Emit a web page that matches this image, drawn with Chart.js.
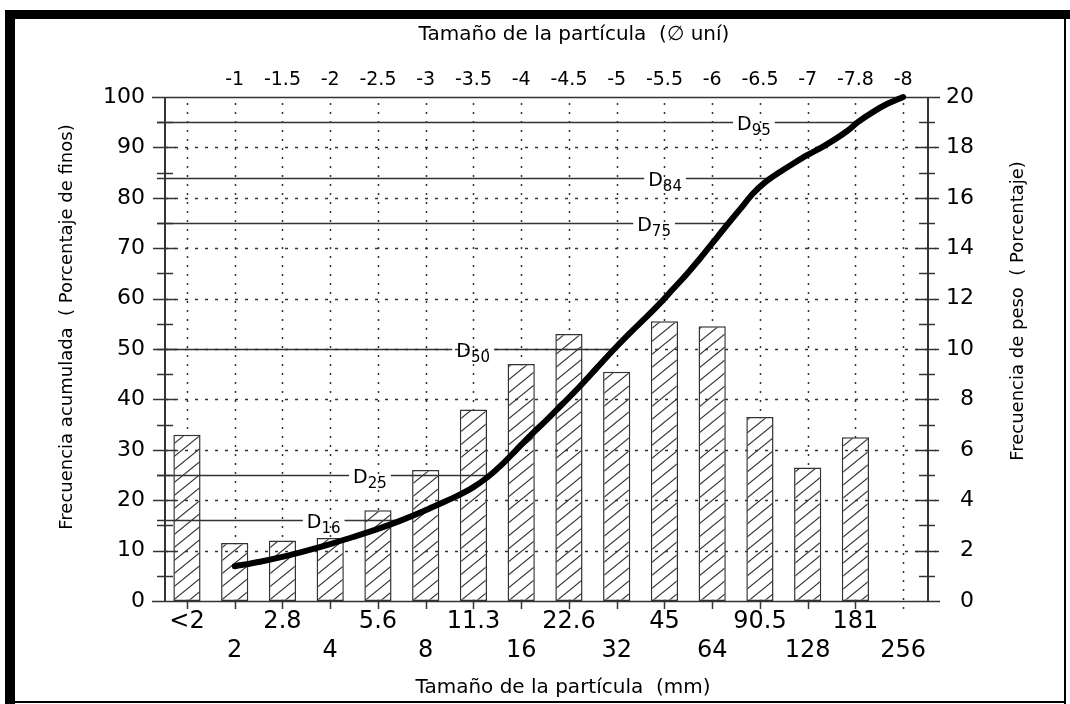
<!DOCTYPE html>
<html>
<head>
<meta charset="utf-8">
<script src="https://cdn.jsdelivr.net/npm/chart.js@4.4.1/dist/chart.umd.min.js"></script>
<style>
  html, body { margin: 0; padding: 0; background: #fff; }
  canvas { display: block; }
</style>
</head>
<body>
<canvas id="c" width="1070" height="704"></canvas>
<script>
// Clases granulométricas: límite de cada clase en mm (paso de medio phi)
const sizeLabels = ['<2', '2', '2.8', '4', '5.6', '8', '11.3', '16', '22.6', '32', '45', '64', '90.5', '128', '181', '256'];
// Mismos límites en unidades phi (eje superior)
const phiLabels = ['', '-1', '-1.5', '-2', '-2.5', '-3', '-3.5', '-4', '-4.5', '-5', '-5.5', '-6', '-6.5', '-7', '-7.8', '-8'];

// Frecuencia de peso de cada clase (%), eje derecho
const weightPct = [6.6, 2.3, 2.4, 2.5, 3.6, 5.2, 7.6, 9.4, 10.6, 9.1, 11.1, 10.9, 7.3, 5.3, 6.5];

// Curva de frecuencia acumulada: posición sobre la escala de clases y % de finos
const cumPos = [1.00, 1.53, 2.02, 2.51, 3.00, 3.48, 3.97, 4.46, 4.95, 5.30, 5.65, 6.00, 6.30, 6.60, 6.90, 7.19, 7.54, 7.88, 8.23, 8.58,
                8.93, 9.28, 9.63, 9.91, 10.19, 10.47, 10.75, 11.03, 11.31, 11.59, 11.85, 12.10, 12.40, 12.70, 12.98, 13.40, 13.82, 14.05, 14.38, 14.66, 15.00];
const cumPct = [6.9, 7.8, 8.8, 10.0, 11.3, 12.7, 14.2, 15.9, 17.8, 19.3, 20.8, 22.6, 24.6, 27.1, 30.0, 32.8, 36.0, 39.2, 42.6, 46.2,
                49.8, 53.2, 56.4, 59.1, 62.0, 64.9, 68.0, 71.3, 74.6, 77.8, 80.8, 83.0, 85.0, 86.8, 88.4, 90.6, 93.2, 95.0, 97.1, 98.6, 100];

// Percentiles señalados sobre la curva
const dLevels = [16, 25, 50, 75, 84, 95];

const FONT = '"DejaVu Sans", sans-serif';
Chart.defaults.font.family = FONT;
Chart.defaults.color = '#000';

const canvas = document.getElementById('c');
const ctx = canvas.getContext('2d');

// Relleno rayado de las barras
function hatch() {
  const W = 16, H = 13;
  const t = document.createElement('canvas');
  t.width = W; t.height = H;
  const g = t.getContext('2d');
  g.fillStyle = '#fff';
  g.fillRect(0, 0, W, H);
  g.strokeStyle = '#333';
  g.lineWidth = 1.1;
  for (const k of [-1, 0, 1]) {
    g.beginPath();
    g.moveTo(k * W - 2, H + 2 * H / W);
    g.lineTo(k * W + W + 2, -2 * H / W);
    g.stroke();
  }
  return ctx.createPattern(t, 'repeat');
}

// Posición (en la escala de clases) donde la curva acumulada alcanza un porcentaje
function crossing(level) {
  for (let i = 1; i < cumPct.length; i++) {
    if (cumPct[i] >= level) {
      const f = (level - cumPct[i - 1]) / (cumPct[i] - cumPct[i - 1]);
      return cumPos[i - 1] + f * (cumPos[i] - cumPos[i - 1]);
    }
  }
  return cumPos[cumPos.length - 1];
}

function line(c, x1, y1, x2, y2) {
  c.beginPath();
  c.moveTo(x1, y1);
  c.lineTo(x2, y2);
  c.stroke();
}

const decor = {
  id: 'decor',
  beforeDraw(chart) {
    const c = chart.ctx;
    c.save();
    c.fillStyle = '#fff';
    c.fillRect(0, 0, chart.width, chart.height);
    c.fillStyle = '#000';
    c.fillRect(5, 10, chart.width - 5, 9);
    c.fillRect(5, 10, 10, chart.height - 10);
    c.fillRect(1064, 10, 2, chart.height - 10);
    c.fillRect(5, 701, 1061, 2);
    c.restore();
  },
  beforeDatasetsDraw(chart) {
    // líneas verticales punteadas en cada límite de clase
    const c = chart.ctx, x = chart.scales.x, a = chart.chartArea;
    c.save();
    c.strokeStyle = '#333';
    c.lineWidth = 1.5;
    c.setLineDash([2, 7]);
    for (let i = 0; i < sizeLabels.length; i++) {
      const px = Math.round(x.getPixelForValue(i)) + 0.5;
      const yEnd = i === sizeLabels.length - 1 ? a.bottom + 10 : a.bottom;
      line(c, px, a.top + 6, px, yEnd);
    }
    c.restore();
  },
  afterDatasetDraw(chart, args, opts) {
    if (args.meta.type !== 'bar') return;
    const c = chart.ctx, x = chart.scales.x, y = chart.scales.y, y2 = chart.scales.y2, a = chart.chartArea;
    c.save();
    c.strokeStyle = '#333';

    // cuadrícula horizontal punteada
    c.lineWidth = 1.5;
    c.setLineDash([3, 7]);
    for (let v = 10; v < 100; v += 10) {
      const py = Math.round(y.getPixelForValue(v)) + 0.5;
      line(c, a.left, py, a.right + 8, py);
    }
    c.setLineDash([]);

    // líneas extremas (0 y 100 %)
    for (const v of [0, 100]) {
      const py = Math.round(y.getPixelForValue(v)) + 0.5;
      line(c, a.left - 13, py, a.right + 12, py);
    }

    // ejes verticales
    c.lineWidth = 2;
    line(c, a.left, a.top, a.left, a.bottom);
    line(c, a.right, a.top, a.right, a.bottom);

    // marcas del eje izquierdo
    c.lineWidth = 1.5;
    for (let v = 5; v < 100; v += 5) {
      const py = Math.round(y.getPixelForValue(v)) + 0.5;
      if (v % 10 === 0) line(c, a.left - 12, py, a.left + 11, py);
      else line(c, a.left - 8, py, a.left + 8, py);
    }
    // marcas del eje derecho
    for (let v = 1; v < 20; v++) {
      const py = Math.round(y2.getPixelForValue(v)) + 0.5;
      if (v % 2 === 0) line(c, a.right - 12, py, a.right + 11, py);
      else line(c, a.right - 9, py, a.right + 7, py);
    }
    // marcas del eje inferior
    for (let i = 0; i < sizeLabels.length - 1; i++) {
      const px = Math.round(x.getPixelForValue(i)) + 0.5;
      line(c, px, a.bottom, px, a.bottom + 8);
    }

    // percentiles D con su rótulo
    dLevels.forEach((lv, k) => {
      const py = Math.round(y.getPixelForValue(lv)) + 0.5;
      const xEnd = x.getPixelForValue(crossing(lv));
      const lx = x.getPixelForValue(opts.labelAt[k]);
      c.font = '19px ' + FONT;
      const wD = c.measureText('D').width;
      c.font = '15px ' + FONT;
      const wS = c.measureText(String(lv)).width;
      c.lineWidth = 1.5;
      c.strokeStyle = '#333';
      line(c, a.left - 8, py, lx - 4, py);
      line(c, lx + wD + wS + 4, py, xEnd, py);
      c.fillStyle = '#000';
      c.textAlign = 'left';
      c.textBaseline = 'alphabetic';
      c.font = '19px ' + FONT;
      c.fillText('D', lx, py + 7);
      c.font = '15px ' + FONT;
      c.fillText(String(lv), lx + wD, py + 12);
    });
    c.restore();
  },
  afterDraw(chart) {
    const c = chart.ctx;
    c.save();
    c.fillStyle = '#000';
    c.textAlign = 'center';
    c.textBaseline = 'middle';
    c.font = '20px ' + FONT;
    c.fillText('Tamaño de la partícula  (∅ uní)', 574, 35);
    c.fillText('Tamaño de la partícula  (mm)', 563, 688);
    c.font = '18px ' + FONT;
    c.save();
    c.translate(67, 327);
    c.rotate(-Math.PI / 2);
    c.fillText('Frecuencia acumulada  ( Porcentaje de finos)', 0, 0);
    c.restore();
    c.save();
    c.translate(1018, 311);
    c.rotate(-Math.PI / 2);
    c.fillText('Frecuencia de peso  ( Porcentaje)', 0, 0);
    c.restore();
    c.restore();
  }
};

const classTick = (labels) => (v) => {
  const i = Math.round(v);
  if (Math.abs(v - i) > 1e-6 || i < 0 || i >= labels.length) return '';
  return labels[i];
};

new Chart(ctx, {
  data: {
    datasets: [
      {
        type: 'bar',
        label: 'Frecuencia de peso',
        data: weightPct.map((v, i) => ({ x: i, y: v })),
        xAxisID: 'x',
        yAxisID: 'y2',
        backgroundColor: hatch(),
        borderColor: '#333',
        borderWidth: 1.5,
        borderSkipped: false,
        categoryPercentage: 1,
        barPercentage: 0.57,
        order: 2
      },
      {
        type: 'line',
        label: 'Frecuencia acumulada',
        data: cumPos.map((p, i) => ({ x: p, y: cumPct[i] })),
        xAxisID: 'x',
        yAxisID: 'y',
        borderColor: '#000',
        borderWidth: 6,
        borderCapStyle: 'round',
        borderJoinStyle: 'round',
        pointRadius: 0,
        cubicInterpolationMode: 'monotone',
        fill: false,
        clip: false,
        order: 1
      }
    ]
  },
  options: {
    responsive: false,
    animation: false,
    devicePixelRatio: 1,
    layout: { padding: { left: 0, right: 96, top: 0, bottom: 0 } },
    plugins: {
      legend: { display: false },
      tooltip: { enabled: false },
      decor: { labelAt: [2.51, 3.48, 5.64, 9.43, 9.66, 11.52] }
    },
    scales: {
      x: {
        type: 'linear', position: 'bottom', min: -0.46, max: 15.52, offset: false,
        afterFit: (s) => { s.height = 103; },
        grid: { display: false, drawTicks: false, offset: false },
        border: { display: false },
        ticks: {
          stepSize: 1, includeBounds: false, autoSkip: false, maxRotation: 0, minRotation: 0,
          padding: 6, color: '#000',
          font: { size: 24, lineHeight: 1.21 },
          callback: (v) => {
            const s = classTick(sizeLabels)(v);
            if (s === '') return '';
            return Math.round(v) % 2 === 0 ? [s, ''] : ['', s];
          }
        }
      },
      xTop: {
        type: 'linear', position: 'top', min: -0.46, max: 15.52, offset: false,
        afterFit: (s) => { s.height = 97; },
        grid: { display: false, drawTicks: false },
        border: { display: false },
        ticks: {
          stepSize: 1, includeBounds: false, autoSkip: false, maxRotation: 0, minRotation: 0,
          padding: 6, color: '#000',
          font: { size: 19 },
          callback: classTick(phiLabels)
        }
      },
      y: {
        type: 'linear', position: 'left', min: 0, max: 100,
        afterFit: (s) => { s.width = 165; },
        grid: { display: false, drawTicks: false },
        border: { display: false },
        ticks: { stepSize: 10, padding: 20, color: '#000', font: { size: 22 } }
      },
      y2: {
        type: 'linear', position: 'right', min: 0, max: 20,
        afterFit: (s) => { s.width = 46; },
        grid: { display: false, drawTicks: false },
        border: { display: false },
        ticks: { stepSize: 2, crossAlign: 'far', color: '#000', font: { size: 22 } }
      }
    }
  },
  plugins: [decor]
});
</script>
</body>
</html>
